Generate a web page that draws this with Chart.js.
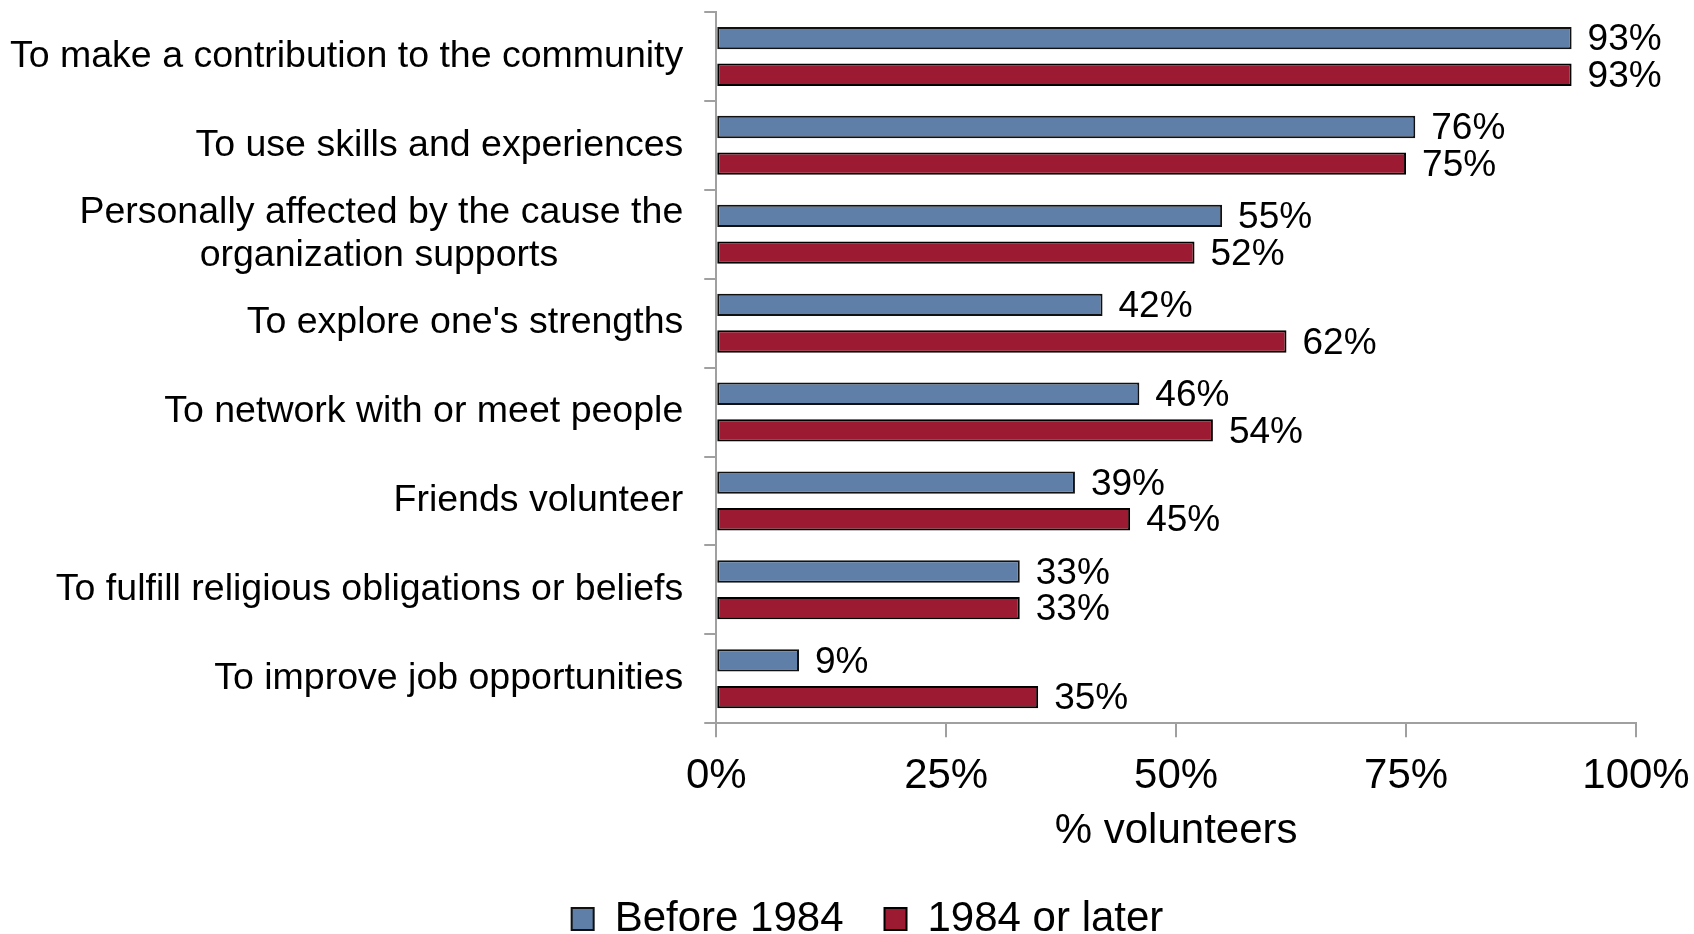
<!DOCTYPE html>
<html>
<head>
<meta charset="utf-8">
<script src="https://cdn.jsdelivr.net/npm/chart.js@4"></script>
<style>
  html, body { margin: 0; padding: 0; background: #fff; }
  #wrap { width: 1694px; height: 934px; position: relative; }
</style>
</head>
<body>
<div id="wrap"><canvas id="reasons"></canvas></div>
<script>
const categories = [
  "To make a contribution to the community",
  "To use skills and experiences",
  ["Personally affected by the cause the", "organization supports"],
  "To explore one's strengths",
  "To network with or meet people",
  "Friends volunteer",
  "To fulfill religious obligations or beliefs",
  "To improve job opportunities"
];
const before1984 = [93, 76, 55, 42, 46, 39, 33, 9];
const since1984 = [93, 75, 52, 62, 54, 45, 33, 35];
const xTicks = [0, 25, 50, 75, 100];

const FONT = "'Liberation Sans', Arial, sans-serif";
const LABEL_SIZE = 37.5;
const BLUE = "#5f7fa8";
const RED = "#9c1a32";
const AXIS = "#a0a0a0";

// pad shorter lines of a wrapped label so they sit centred under the longest one
const measure = document.createElement("canvas").getContext("2d");
measure.font = LABEL_SIZE + "px " + FONT;
function centerLines(label) {
  if (!Array.isArray(label)) return label;
  const widths = label.map(l => measure.measureText(l).width);
  const max = Math.max(...widths);
  const space = measure.measureText(" ").width;
  return label.map((l, i) => l + " ".repeat(Math.round((max - widths[i]) / 2 / space)));
}

// value labels to the right of each bar
const barValues = {
  id: "barValues",
  afterDatasetsDraw(chart) {
    const ctx = chart.ctx;
    ctx.save();
    ctx.font = "37px " + FONT;
    ctx.fillStyle = "#000";
    ctx.textAlign = "left";
    ctx.textBaseline = "middle";
    chart.data.datasets.forEach((ds, i) => {
      chart.getDatasetMeta(i).data.forEach((bar, j) => {
        ctx.fillText(ds.data[j] + "%", bar.x + 16, bar.y + 2);
      });
    });
    ctx.restore();
  }
};

// nudge the legend row to the right
const legendShift = {
  id: "legendShift",
  afterLayout(chart) {
    chart.legend.left += 55;
    chart.legend.right += 55;
  }
};

new Chart(document.getElementById("reasons"), {
  type: "bar",
  data: {
    labels: categories,
    datasets: [
      {
        label: "Before 1984",
        data: before1984,
        backgroundColor: BLUE,
        borderColor: "#111",
        borderWidth: 2,
        borderSkipped: false
      },
      {
        label: "1984 or later",
        data: since1984,
        backgroundColor: RED,
        borderColor: "#000",
        borderWidth: 2,
        borderSkipped: false
      }
    ]
  },
  options: {
    indexAxis: "y",
    responsive: true,
    maintainAspectRatio: false,
    animation: false,
    categoryPercentage: 0.824,
    barPercentage: 0.61,
    layout: { padding: { top: 12, right: 58, left: -11, bottom: -16 } },
    scales: {
      x: {
        min: 0,
        max: 100,
        afterBuildTicks: axis => { axis.ticks = xTicks.map(v => ({ value: v })); },
        afterFit(scale) {
          scale.paddingLeft = 0;
          scale.paddingRight = 0;
        },
        ticks: {
          callback: v => v + "%",
          color: "#000",
          font: { family: FONT, size: 42 },
          padding: 14,
          maxRotation: 0
        },
        grid: {
          drawOnChartArea: false,
          color: AXIS,
          lineWidth: 2,
          tickLength: 14
        },
        border: { color: AXIS, width: 2 },
        title: {
          display: true,
          text: "% volunteers",
          color: "#000",
          font: { family: FONT, size: 42 },
          padding: { top: -9, bottom: 0 }
        }
      },
      y: {
        afterFit(scale) {
          scale.paddingTop = 0;
          scale.paddingBottom = 0;
        },
        ticks: {
          callback: function (value) { return centerLines(this.getLabelForValue(value)); },
          color: "#000",
          font: { family: FONT, size: LABEL_SIZE, lineHeight: 1.13 },
          padding: 21,
          autoSkip: false
        },
        grid: {
          drawOnChartArea: false,
          offset: true,
          color: AXIS,
          lineWidth: 2,
          tickLength: 12
        },
        border: { color: AXIS, width: 2 }
      }
    },
    plugins: {
      legend: {
        display: true,
        position: "bottom",
        labels: {
          color: "#000",
          font: { family: FONT, size: 42 },
          boxWidth: 22,
          boxHeight: 22,
          padding: 41
        }
      },
      tooltip: { enabled: false }
    }
  },
  plugins: [barValues, legendShift]
});
</script>
</body>
</html>
